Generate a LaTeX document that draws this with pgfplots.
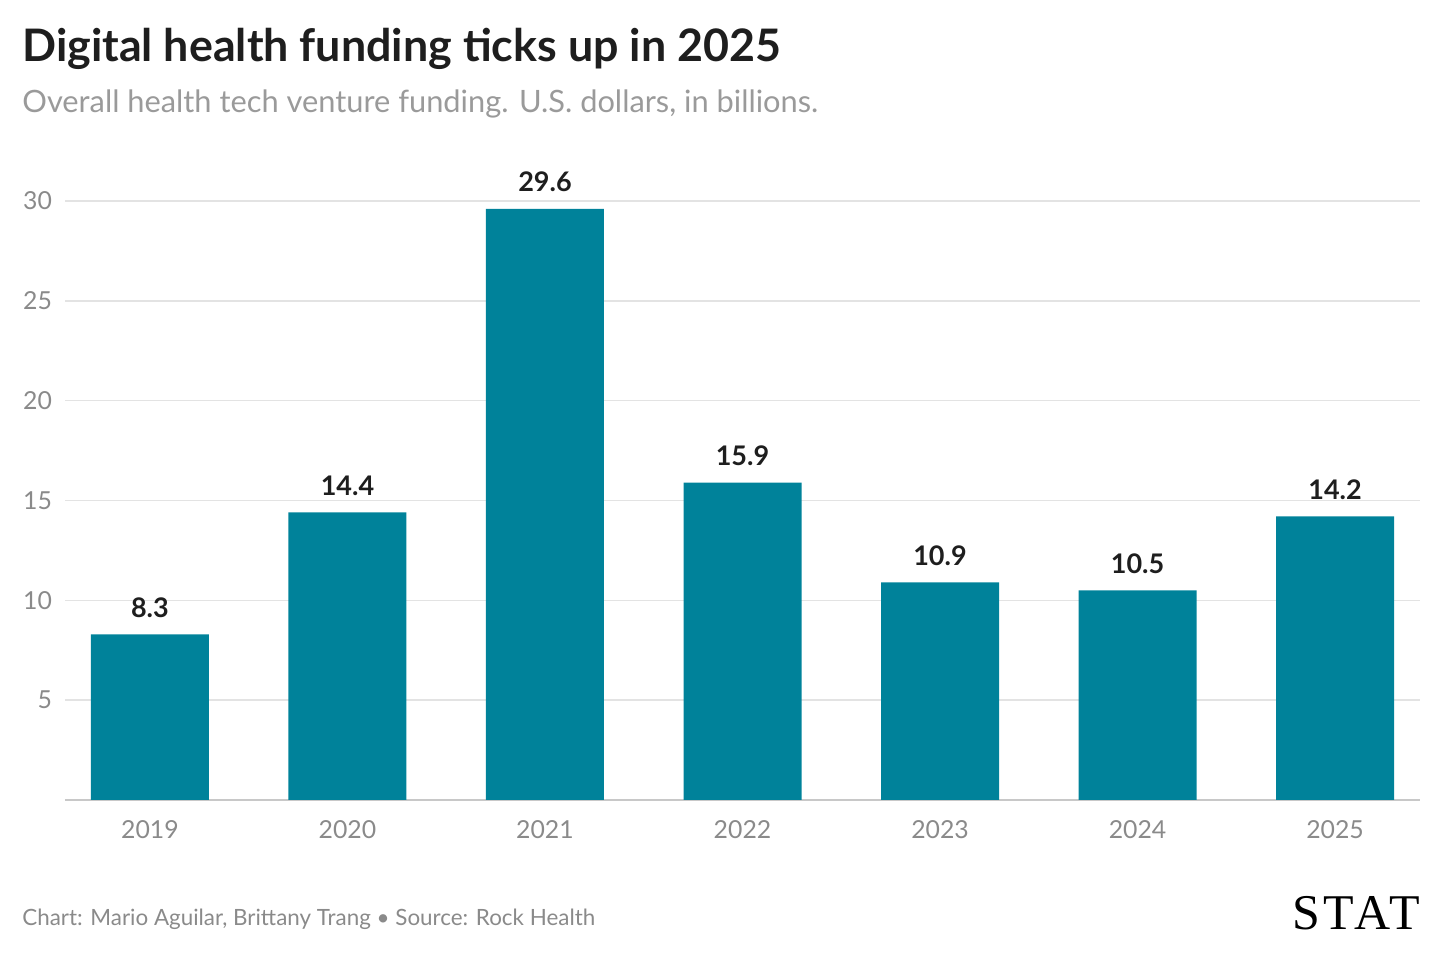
\documentclass[border=0pt]{standalone}
\usepackage{fontspec}
\setmainfont{Lato}
\newfontfamily\logofont[LetterSpace=8]{Liberation Serif}
\usepackage{pgfplots}
\pgfplotsset{compat=1.18}
\definecolor{barteal}{HTML}{00829A}
\definecolor{gridgray}{HTML}{E3E3E3}
\definecolor{basegray}{HTML}{C8C8C8}
\definecolor{ticktxt}{HTML}{8A8A8A}
\definecolor{subtxt}{HTML}{9A9A9A}
\definecolor{titletxt}{HTML}{1E1E1E}
\begin{document}
\begin{tikzpicture}
\path[use as bounding box] (-32.5pt,-81pt) rectangle (687.5pt,400pt);
\begin{axis}[
  at={(0,0)}, anchor=south west,
  scale only axis, width=677.5pt, height=299.5pt,
  ybar, bar width=59pt, bar shift=0pt,
  xmin=-0.43, xmax=6.43, ymin=0, ymax=30,
  clip=false,
  axis line style={draw=none},
  xtick=data, xticklabels={2019,2020,2021,2022,2023,2024,2025},
  ytick={5,10,15,20,25,30},
  extra y ticks={0}, extra y tick labels={},
  extra y tick style={grid style={basegray, line width=0.8pt}},
  ymajorgrids, grid style={gridgray, line width=0.7pt},
  major tick length=0pt,
  /pgf/number format/assume math mode=true,
  ticklabel style={font=\fontsize{12.4}{14}\selectfont, text=ticktxt},
  yticklabel style={anchor=east, xshift=-3pt},
  xticklabel style={anchor=center, yshift=-15pt},
  nodes near coords={\pgfmathprintnumber[fixed,precision=1,fixed zerofill,assume math mode=true]{\pgfplotspointmeta}},
  every node near coord/.append style={font=\bfseries\fontsize{13.5}{15}\selectfont, text=titletxt, anchor=base, inner sep=0pt, yshift=8.5pt},
]
\addplot[fill=barteal, draw=none] coordinates {
  (0,8.3) (1,14.4) (2,29.6) (3,15.9) (4,10.9) (5,10.5) (6,14.2)};
\end{axis}
\node[anchor=base west, inner sep=0pt, text=titletxt, font=\bfseries\fontsize{22.4}{26}\selectfont] at (-21.5pt,369pt) {Digital health funding ticks up in 2025};
\node[anchor=base west, inner sep=0pt, text=subtxt, font=\fontsize{15.4}{18}\selectfont] at (-21.5pt,343.5pt) {Overall health tech venture funding. U.S. dollars, in billions.};
\node[anchor=base west, inner sep=0pt, text=ticktxt, font=\fontsize{11.2}{13}\selectfont] at (-21.5pt,-63pt) {Chart: Mario Aguilar, Brittany Trang \textbullet{} Source: Rock Health};
\node[anchor=base east, inner sep=0pt, text=black, font=\logofont\fontsize{25}{27}\selectfont] at (677.5pt,-65pt) {STAT};
\end{tikzpicture}
\end{document}
